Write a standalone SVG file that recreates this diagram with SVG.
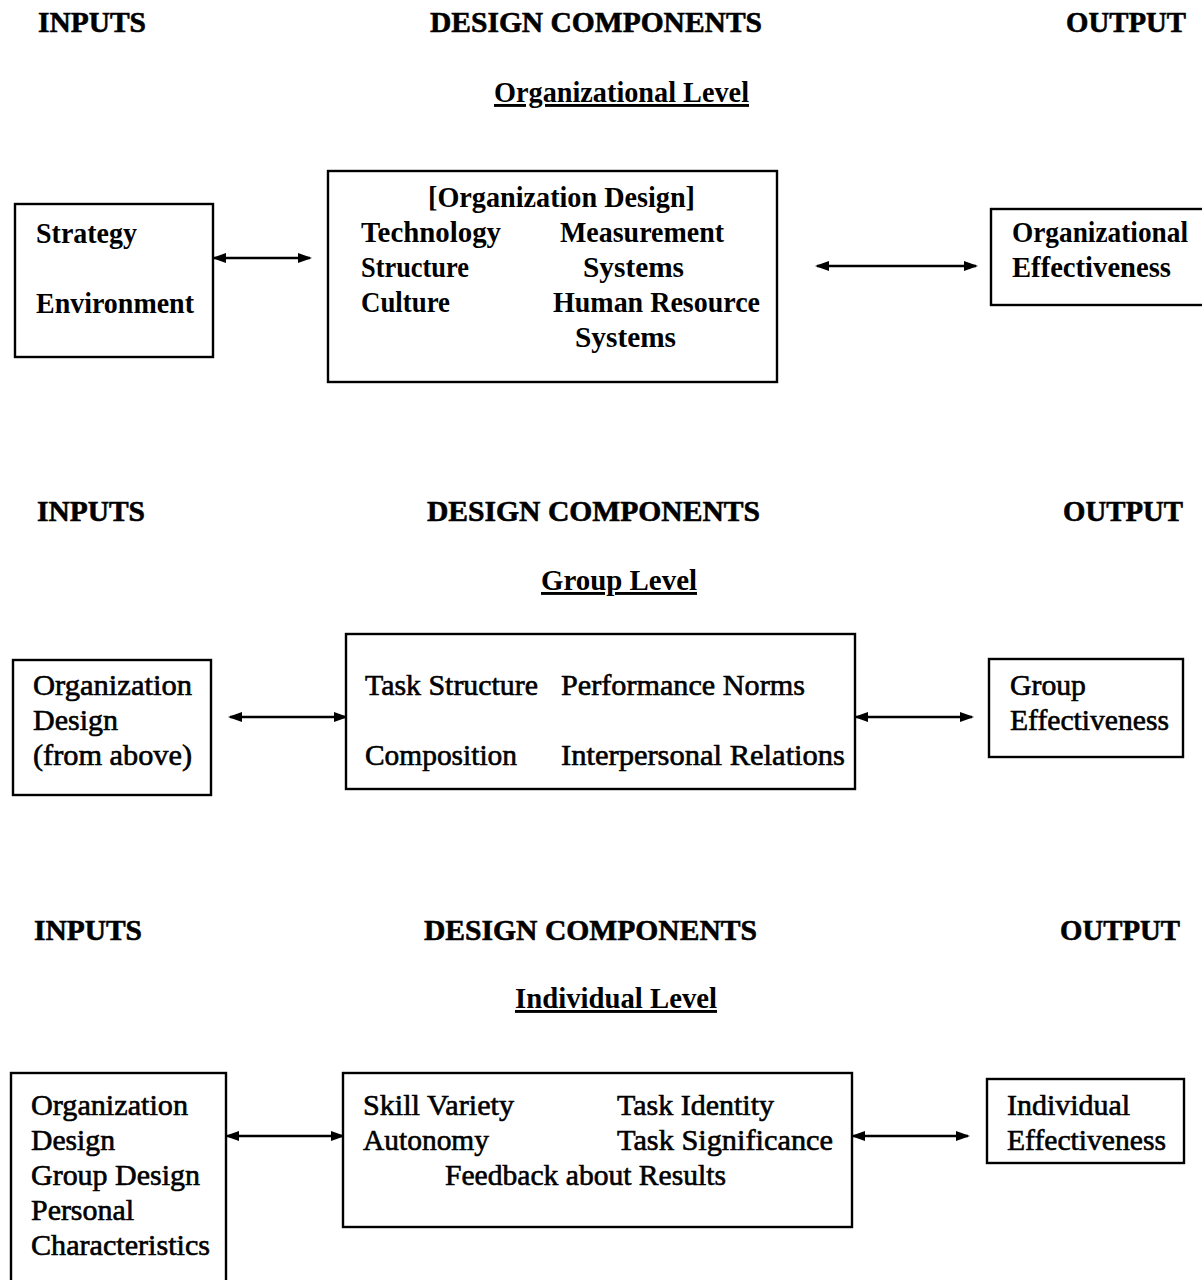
<svg xmlns="http://www.w3.org/2000/svg" width="1202" height="1280" viewBox="0 0 1202 1280">
<defs>
<style>
text{font-family:"Liberation Serif","Times New Roman",serif;font-size:29px;fill:#000}
.h{font-weight:bold;font-size:30px;stroke:#000;stroke-width:0.6}
.b{font-weight:bold}
.n{stroke:#000;stroke-width:0.6}
.u{text-decoration:underline}
.box{fill:#fff;stroke:#000;stroke-width:2.4}
.c{stroke:#000;stroke-width:2.6;fill:none;marker-start:url(#ah);marker-end:url(#ah)}
</style>
<marker id="ah" viewBox="0 0 14 12" refX="12" refY="6" markerWidth="14" markerHeight="12" markerUnits="userSpaceOnUse" orient="auto-start-reverse">
<path d="M0,1 L14,6 L0,11 Z" fill="#000"/>
</marker>
</defs>
<rect width="1202" height="1280" fill="#fff"/>

<g id="headers">
<text class="h" x="38" y="32" textLength="108" lengthAdjust="spacingAndGlyphs">INPUTS</text>
<text class="h" x="430" y="32" textLength="332" lengthAdjust="spacingAndGlyphs">DESIGN COMPONENTS</text>
<text class="h" x="1066" y="32" textLength="120" lengthAdjust="spacingAndGlyphs">OUTPUT</text>
<text class="b u" x="494" y="102" textLength="255" lengthAdjust="spacingAndGlyphs">Organizational Level</text>
<text class="h" x="37" y="521" textLength="108" lengthAdjust="spacingAndGlyphs">INPUTS</text>
<text class="h" x="427" y="521" textLength="333" lengthAdjust="spacingAndGlyphs">DESIGN COMPONENTS</text>
<text class="h" x="1063" y="521" textLength="120" lengthAdjust="spacingAndGlyphs">OUTPUT</text>
<text class="b u" x="541" y="590" textLength="156" lengthAdjust="spacingAndGlyphs">Group Level</text>
<text class="h" x="34" y="940" textLength="108" lengthAdjust="spacingAndGlyphs">INPUTS</text>
<text class="h" x="424" y="940" textLength="333" lengthAdjust="spacingAndGlyphs">DESIGN COMPONENTS</text>
<text class="h" x="1060" y="940" textLength="120" lengthAdjust="spacingAndGlyphs">OUTPUT</text>
<text class="b u" x="515" y="1008" textLength="202" lengthAdjust="spacingAndGlyphs">Individual Level</text>
</g>

<g id="connectors">
<line class="c" x1="214" y1="258" x2="310" y2="258"/>
<line class="c" x1="817" y1="266" x2="976" y2="266"/>
<line class="c" x1="230" y1="717" x2="346" y2="717"/>
<line class="c" x1="856" y1="717" x2="972" y2="717"/>
<line class="c" x1="227" y1="1136" x2="343" y2="1136"/>
<line class="c" x1="853" y1="1136" x2="968" y2="1136"/>
</g>

<g id="org-inputs">
<rect class="box" x="15" y="204" width="198" height="153"/>
<text class="b" x="36" y="243" textLength="101" lengthAdjust="spacingAndGlyphs">Strategy</text>
<text class="b" x="36" y="313" textLength="158" lengthAdjust="spacingAndGlyphs">Environment</text>
</g>
<g id="org-design">
<rect class="box" x="328" y="171" width="449" height="211"/>
<text class="b" x="428" y="207" textLength="267" lengthAdjust="spacingAndGlyphs">[Organization Design]</text>
<text class="b" x="361" y="242" textLength="140" lengthAdjust="spacingAndGlyphs">Technology</text>
<text class="b" x="560" y="242" textLength="164" lengthAdjust="spacingAndGlyphs">Measurement</text>
<text class="b" x="361" y="277" textLength="108" lengthAdjust="spacingAndGlyphs">Structure</text>
<text class="b" x="583" y="277" textLength="101" lengthAdjust="spacingAndGlyphs">Systems</text>
<text class="b" x="361" y="312" textLength="89" lengthAdjust="spacingAndGlyphs">Culture</text>
<text class="b" x="553" y="312" textLength="207" lengthAdjust="spacingAndGlyphs">Human Resource</text>
<text class="b" x="575" y="347" textLength="101" lengthAdjust="spacingAndGlyphs">Systems</text>
</g>
<g id="org-output">
<rect class="box" x="991" y="209" width="215" height="96"/>
<text class="b" x="1012" y="242" textLength="176" lengthAdjust="spacingAndGlyphs">Organizational</text>
<text class="b" x="1012" y="277" textLength="159" lengthAdjust="spacingAndGlyphs">Effectiveness</text>
</g>

<g id="group-inputs">
<rect class="box" x="13" y="660" width="198" height="135"/>
<text class="n" x="33" y="695" textLength="159" lengthAdjust="spacingAndGlyphs">Organization</text>
<text class="n" x="33" y="730" textLength="85" lengthAdjust="spacingAndGlyphs">Design</text>
<text class="n" x="33" y="765" textLength="159" lengthAdjust="spacingAndGlyphs">(from above)</text>
</g>
<g id="group-design">
<rect class="box" x="346" y="634" width="509" height="155"/>
<text class="n" x="365" y="695" textLength="173" lengthAdjust="spacingAndGlyphs">Task Structure</text>
<text class="n" x="561" y="695" textLength="244" lengthAdjust="spacingAndGlyphs">Performance Norms</text>
<text class="n" x="365" y="765" textLength="152" lengthAdjust="spacingAndGlyphs">Composition</text>
<text class="n" x="561" y="765" textLength="284" lengthAdjust="spacingAndGlyphs">Interpersonal Relations</text>
</g>
<g id="group-output">
<rect class="box" x="989" y="659" width="194" height="98"/>
<text class="n" x="1010" y="695" textLength="76" lengthAdjust="spacingAndGlyphs">Group</text>
<text class="n" x="1010" y="730" textLength="159" lengthAdjust="spacingAndGlyphs">Effectiveness</text>
</g>

<g id="ind-inputs">
<rect class="box" x="11" y="1073" width="215" height="220"/>
<text class="n" x="31" y="1115" textLength="157" lengthAdjust="spacingAndGlyphs">Organization</text>
<text class="n" x="31" y="1150" textLength="84" lengthAdjust="spacingAndGlyphs">Design</text>
<text class="n" x="31" y="1185" textLength="169" lengthAdjust="spacingAndGlyphs">Group Design</text>
<text class="n" x="31" y="1220" textLength="103" lengthAdjust="spacingAndGlyphs">Personal</text>
<text class="n" x="31" y="1255" textLength="179" lengthAdjust="spacingAndGlyphs">Characteristics</text>
</g>
<g id="ind-design">
<rect class="box" x="343" y="1073" width="509" height="154"/>
<text class="n" x="363" y="1115" textLength="151" lengthAdjust="spacingAndGlyphs">Skill Variety</text>
<text class="n" x="617" y="1115" textLength="157" lengthAdjust="spacingAndGlyphs">Task Identity</text>
<text class="n" x="363" y="1150" textLength="126" lengthAdjust="spacingAndGlyphs">Autonomy</text>
<text class="n" x="617" y="1150" textLength="216" lengthAdjust="spacingAndGlyphs">Task Significance</text>
<text class="n" x="445" y="1185" textLength="281" lengthAdjust="spacingAndGlyphs">Feedback about Results</text>
</g>
<g id="ind-output">
<rect class="box" x="987" y="1079" width="197" height="84"/>
<text class="n" x="1007" y="1115" textLength="123" lengthAdjust="spacingAndGlyphs">Individual</text>
<text class="n" x="1007" y="1150" textLength="159" lengthAdjust="spacingAndGlyphs">Effectiveness</text>
</g>
</svg>
